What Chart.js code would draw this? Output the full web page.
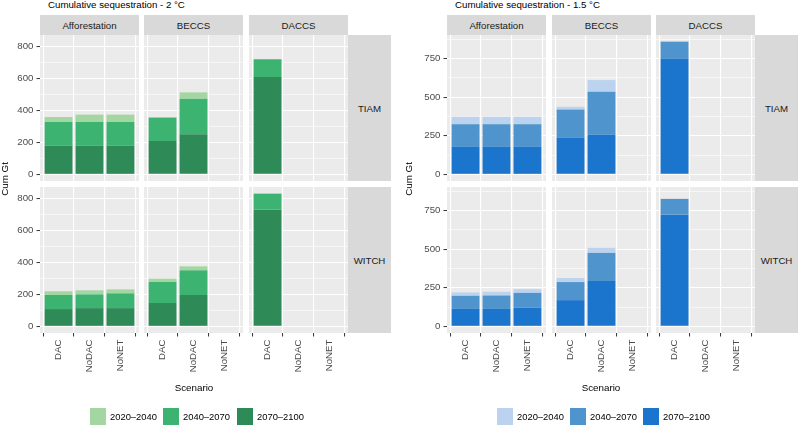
<!DOCTYPE html>
<html>
<head>
<meta charset="utf-8">
<script src="https://cdn.jsdelivr.net/npm/chart.js@4"></script>
<style>
  body { margin: 0; width: 798px; height: 426px; background: #fff; position: relative; overflow: hidden;
         font-family: "Liberation Sans", Arial, sans-serif; }
  .txt { position: absolute; white-space: nowrap; }
  .strip { position: absolute; background: #d9d9d9; color: #1a1a1a; font-size: 9.7px;
           display: flex; align-items: center; justify-content: center; }
  .sw { position: absolute; width: 16px; height: 17px; }
  canvas { position: absolute; }
</style>
</head>
<body>
<script>
const scenarios = ['DAC', 'NoDAC', 'NoNET'];
const periods = ['2020–2040', '2040–2070', '2070–2100'];
const techs = ['Afforestation', 'BECCS', 'DACCS'];
const models = ['TIAM', 'WITCH'];

// cumulative Gt, rows follow periods, columns follow scenarios
const deg2_tiam_afforestation = [[31, 46, 46], [148, 148, 148], [179, 179, 179]];
const deg2_tiam_beccs         = [[3, 39, null], [146, 223, null], [208, 250, null]];
const deg2_tiam_daccs         = [[null, null, null], [111, null, null], [608, null, null]];
const deg2_witch_afforestation = [[23, 25, 25], [88, 86, 92], [108, 114, 114]];
const deg2_witch_beccs         = [[21, 25, null], [131, 154, null], [146, 196, null]];
const deg2_witch_daccs         = [[null, null, null], [100, null, null], [729, null, null]];

const deg15_tiam_afforestation = [[48, 48, 48], [147, 147, 147], [178, 178, 178]];
const deg15_tiam_beccs         = [[18, 76, null], [184, 279, null], [236, 256, null]];
const deg15_tiam_daccs         = [[null, null, null], [110, null, null], [750, null, null]];
const deg15_witch_afforestation = [[22, 24, 24], [85, 87, 95], [113, 113, 122]];
const deg15_witch_beccs         = [[26, 33, null], [117, 182, null], [170, 294, null]];
const deg15_witch_daccs         = [[null, null, null], [102, null, null], [724, null, null]];

const yMajor2 = [0, 200, 400, 600, 800];
const yMinor2 = [100, 300, 500, 700];
const yMajor15 = [0, 250, 500, 750];
const yMinor15 = [125, 375, 625, 875];

const greens = ['#a3d6a0', '#3cb371', '#2e8b57'];
const blues = ['#bcd3ef', '#4f94cd', '#1c75cd'];

const FONT = { family: '"Liberation Sans", Arial, sans-serif', size: 9.7 };

const panelBg = {
  id: 'panelBg',
  beforeDraw(chart) {
    const { ctx, chartArea: a } = chart;
    ctx.save();
    ctx.fillStyle = '#ebebeb';
    ctx.fillRect(a.left, a.top, a.width, a.height);
    ctx.restore();
  }
};

function addText(txt, css) {
  const d = document.createElement('div');
  d.className = 'txt';
  d.textContent = txt;
  Object.assign(d.style, css);
  document.body.appendChild(d);
  return d;
}

function drawPanel(p) {
  const W = 99, H = 146, rows = [35, 187];
  const all = p.facets.flat().flat().length; // unused guard
  let top = 0;
  p.facets.forEach(f => f.forEach(v => {
    for (let i = 0; i < 3; i++) {
      let s = 0;
      v.forEach(r => s += r[i] || 0);
      top = Math.max(top, s);
    }
  }));
  const yMin = -0.05 * top, yMax = 1.05 * top;
  const ticks = p.major.concat(p.minor).sort((a, b) => a - b);

  addText(p.title, { left: p.titleX + 'px', top: '-1px', fontSize: '9.7px', lineHeight: '12px', color: '#000' });

  p.cols.forEach((cx, c) => {
    const s = document.createElement('div');
    s.className = 'strip';
    Object.assign(s.style, { left: cx + 'px', top: '15px', width: W + 'px', height: '20px' });
    s.textContent = techs[c];
    document.body.appendChild(s);
  });
  const stripX = p.cols[2] + W;
  models.forEach((m, r) => {
    const s = document.createElement('div');
    s.className = 'strip';
    Object.assign(s.style, { left: stripX + 'px', top: rows[r] + 'px', width: '43px', height: H + 'px' });
    s.textContent = m;
    document.body.appendChild(s);
  });

  p.facets.forEach((rowVals, r) => rowVals.forEach((vals, c) => {
    const leftExtra = c === 0 ? 40 : 0;
    const bottomExtra = r === 1 ? 50 : 0;
    const cv = document.createElement('canvas');
    cv.width = W + leftExtra;
    cv.height = H + bottomExtra;
    cv.style.left = (p.cols[c] - leftExtra) + 'px';
    cv.style.top = rows[r] + 'px';
    document.body.appendChild(cv);

    const datasets = [2, 1, 0].map(k => ({
      label: periods[k],
      data: vals[k].map((v, i) => ({ x: i + 1, y: v })),
      backgroundColor: p.colors[k],
      borderWidth: 0,
      stack: 's'
    }));

    new Chart(cv, {
      type: 'bar',
      data: { datasets },
      options: {
        responsive: false,
        animation: false,
        devicePixelRatio: 1,
        layout: { padding: 0 },
        barPercentage: 0.9,
        categoryPercentage: 1,
        plugins: { legend: { display: false }, tooltip: { enabled: false } },
        scales: {
          x: {
            type: 'linear', min: 0.4, max: 3.6, bounds: 'data', stacked: true, offset: false,
            afterBuildTicks: a => { a.ticks = scenarios.map((s, i) => ({ value: i + 1 })); },
            afterFit: a => { a.height = bottomExtra; a.paddingLeft = 0; a.paddingRight = 0; },
            border: { display: false },
            grid: { color: '#ffffff', lineWidth: 1.1, drawTicks: r === 1, tickLength: 3.5,
                    tickColor: '#333333', tickWidth: 1 },
            ticks: { display: r === 1, autoSkip: false, minRotation: 90, maxRotation: 90, padding: 3,
                     color: '#4d4d4d', font: FONT, callback: v => scenarios[v - 1] }
          },
          y: {
            min: yMin, max: yMax, stacked: true,
            afterBuildTicks: a => { a.ticks = ticks.map(v => ({ value: v })); },
            afterFit: a => { a.width = leftExtra; a.paddingTop = 0; a.paddingBottom = 0; },
            border: { display: false },
            grid: {
              color: '#ffffff',
              lineWidth: ctx => p.major.includes(ctx.tick.value) ? 1.1 : 0.55,
              drawTicks: c === 0, tickLength: 3.5, tickWidth: 1,
              tickColor: ctx => p.major.includes(ctx.tick.value) ? '#333333' : 'rgba(0,0,0,0)'
            },
            ticks: { display: c === 0, autoSkip: false, padding: 3, color: '#4d4d4d', font: FONT,
                     callback: v => p.major.includes(v) ? String(v) : '' }
          }
        }
      },
      plugins: [panelBg]
    });
  }));

  addText('Cum Gt', { left: (p.yTitleX - 20) + 'px', top: '173px', width: '40px', textAlign: 'center',
                      fontSize: '9.8px', lineHeight: '12px', transform: 'rotate(-90deg)', color: '#000' });
  const mid = (p.cols[0] + stripX) / 2;
  addText('Scenario', { left: (mid - 40) + 'px', top: '382px', width: '80px', textAlign: 'center',
                        fontSize: '9.8px', lineHeight: '12px', color: '#000' });

  periods.forEach((lab, k) => {
    const sw = document.createElement('div');
    sw.className = 'sw';
    Object.assign(sw.style, { left: p.legendX[k] + 'px', top: '408px', background: p.colors[k] });
    document.body.appendChild(sw);
    addText(lab, { left: (p.legendX[k] + 20) + 'px', top: '410.5px', fontSize: '9.4px', lineHeight: '12px', color: '#000' });
  });
}

drawPanel({
  title: 'Cumulative sequestration - 2 °C', titleX: 48,
  cols: [40, 144, 249],
  facets: [[deg2_tiam_afforestation, deg2_tiam_beccs, deg2_tiam_daccs],
           [deg2_witch_afforestation, deg2_witch_beccs, deg2_witch_daccs]],
  major: yMajor2, minor: yMinor2, colors: greens,
  yTitleX: 4.5, legendX: [90, 163, 237]
});

drawPanel({
  title: 'Cumulative sequestration - 1.5 °C', titleX: 455,
  cols: [447, 552, 656],
  facets: [[deg15_tiam_afforestation, deg15_tiam_beccs, deg15_tiam_daccs],
           [deg15_witch_afforestation, deg15_witch_beccs, deg15_witch_daccs]],
  major: yMajor15, minor: yMinor15, colors: blues,
  yTitleX: 409, legendX: [497, 570, 643]
});
</script>
</body>
</html>
